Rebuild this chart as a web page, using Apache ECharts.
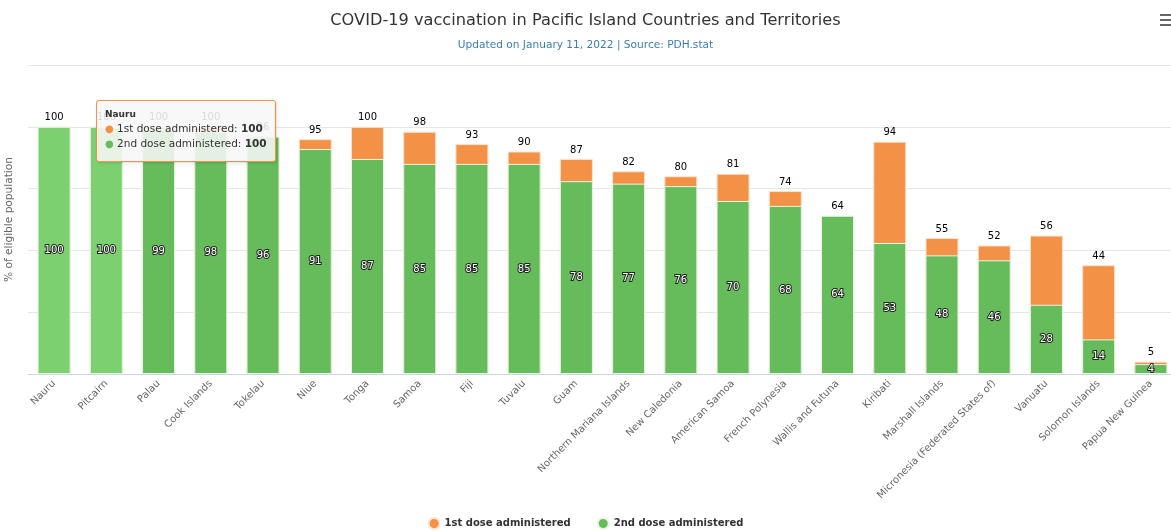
<!DOCTYPE html>
<html>
<head>
<meta charset="utf-8">
<script src="https://cdn.jsdelivr.net/npm/echarts@6/dist/echarts.min.js"></script>
<style>
html,body{margin:0;padding:0;background:#fff;}
#chart{width:1171px;height:531px;}
</style>
</head>
<body>
<div id="chart"></div>
<script>
const categories = ['Nauru','Pitcairn','Palau','Cook Islands','Tokelau','Niue','Tonga','Samoa','Fiji','Tuvalu','Guam','Northern Mariana Islands','New Caledonia','American Samoa','French Polynesia','Wallis and Futuna','Kiribati','Marshall Islands','Micronesia (Federated States of)','Vanuatu','Solomon Islands','Papua New Guinea'];
const firstDose = [100,100,100,100,96,95,100,98,93,90,87,82,80,81,74,64,94,55,52,56,44,5];
const secondDose = [100,100,99,98,96,91,87,85,85,85,78,77,76,70,68,64,53,48,46,28,14,4];
const highlighted = ['Nauru','Pitcairn'];
const seriesNames = ['1st dose administered','2nd dose administered'];

const FONT = '"DejaVu Sans", Verdana, sans-serif';
const ORANGE = '#f39146';
const GREEN = '#66bb5b';
const GREEN_LIGHT = '#7dd06f';

const chart = echarts.init(document.getElementById('chart'));
chart.setOption({
  animation: false,
  textStyle: {fontFamily: FONT},
  title: {
    text: 'COVID-19 vaccination in Pacific Island Countries and Territories',
    subtext: 'Updated on January 11, 2022 | Source: PDH.stat',
    left: 'center', top: 8, itemGap: 11,
    textStyle: {fontFamily: FONT, fontSize: 16.2, fontWeight: 'normal', color: '#333'},
    subtextStyle: {fontFamily: FONT, fontSize: 10.6, color: '#3a7db3'}
  },
  legend: {
    top: 512, left: 'center', icon: 'circle', itemWidth: 11, itemHeight: 11, itemGap: 26,
    textStyle: {fontFamily: FONT, fontSize: 10, fontWeight: 'bold', color: '#333'},
    data: seriesNames
  },
  tooltip: {
    trigger: 'axis',
    axisPointer: {type: 'none'},
    alwaysShowContent: true,
    position: [96, 100],
    backgroundColor: 'rgba(247,247,247,0.88)',
    borderColor: ORANGE, borderWidth: 1, padding: [7, 8, 10, 8],
    extraCssText: 'border-radius:3px;box-shadow:1px 1px 3px rgba(0,0,0,0.15);',
    formatter: function (params) {
      const ff = FONT.replace(/"/g, "'");
      let s = '<div style="font-family:' + ff + ';font-size:9px;font-weight:bold;color:#333;line-height:13px;">' + params[0].name + '</div>';
      const cols = [ORANGE, GREEN];
      params.forEach(function (p, i) {
        s += '<div style="font-family:' + ff + ';font-size:10.5px;color:#333;line-height:14px;"><span style="color:' + cols[i] + ';font-size:10px;">\u25CF</span> ' + p.seriesName + ': <b>' + p.value + '</b></div>';
      });
      return s;
    }
  },
  grid: {left: 28, right: -6, top: 65, bottom: 157, containLabel: false, outerBoundsMode: 'none'},
  xAxis: {
    type: 'category', data: categories,
    axisLine: {lineStyle: {color: '#ccd6eb'}},
    axisTick: {show: false},
    axisLabel: {rotate: 45, interval: 0, fontSize: 10, color: '#666', fontFamily: FONT, margin: 8}
  },
  yAxis: {
    type: 'value', min: 0, max: 125, interval: 25,
    name: '% of eligible population', nameLocation: 'middle', nameGap: 13,
    nameTextStyle: {fontSize: 10.6, color: '#666', fontFamily: FONT},
    axisLabel: {show: false},
    axisLine: {show: false}, axisTick: {show: false},
    splitLine: {lineStyle: {color: '#e6e6e6'}}
  },
  series: [
    {
      name: seriesNames[0], type: 'bar', barWidth: 33, barGap: '-100%',
      itemStyle: {color: ORANGE, borderColor: '#fde3cf', borderWidth: 1},
      emphasis: {disabled: true},
      label: {show: true, position: 'top', distance: 4, fontSize: 10, color: '#000', fontFamily: FONT},
      data: firstDose
    },
    {
      name: seriesNames[1], type: 'bar', barWidth: 33, barGap: '-100%',
      itemStyle: {color: GREEN, borderColor: '#e8f5e5', borderWidth: 1},
      emphasis: {disabled: true},
      label: {show: true, position: 'inside', fontSize: 10, color: '#fff', fontFamily: FONT, textBorderColor: '#222', textBorderWidth: 2},
      data: secondDose.map(function (v, i) {
        return highlighted.indexOf(categories[i]) >= 0 ? {value: v, itemStyle: {color: GREEN_LIGHT}} : v;
      })
    }
  ],
  graphic: [
    {type: 'rect', shape: {x: 1160, y: 14, width: 11, height: 2}, style: {fill: '#666'}},
    {type: 'rect', shape: {x: 1160, y: 19, width: 11, height: 2}, style: {fill: '#666'}},
    {type: 'rect', shape: {x: 1160, y: 24, width: 11, height: 2}, style: {fill: '#666'}}
  ]
});
chart.dispatchAction({type: 'showTip', seriesIndex: 0, dataIndex: 0});
</script>
</body>
</html>
